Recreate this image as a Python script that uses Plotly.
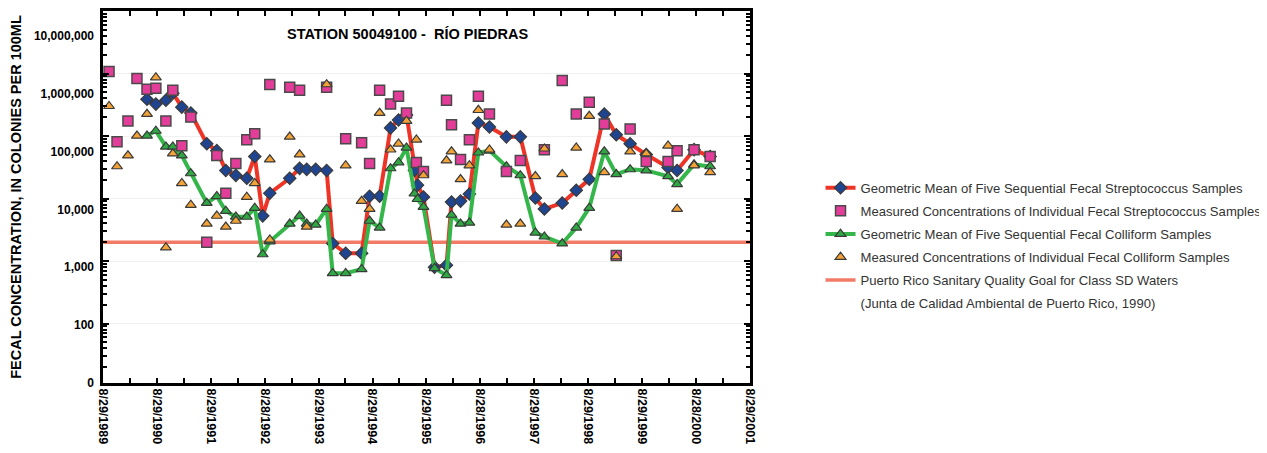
import plotly.graph_objects as go

# Station 50049100 - Rio Piedras, fecal bacteria (colonies per 100 mL)
mean_dates = [
    "1990-06-23", "1990-08-22", "1990-10-29", "1990-12-15", "1991-02-14", "1991-04-16", "1991-08-02",
    "1991-10-09", "1991-12-09", "1992-02-15", "1992-04-29", "1992-06-22", "1992-08-15", "1992-10-02",
    "1993-02-14", "1993-04-22", "1993-06-09", "1993-08-09", "1993-10-22", "1993-12-02", "1994-02-28",
    "1994-06-16", "1994-08-09", "1994-10-16", "1994-12-29", "1995-02-21", "1995-04-16", "1995-06-09",
    "1995-06-30", "1995-08-09", "1995-10-23", "1996-01-12", "1996-02-15", "1996-04-16", "1996-06-15",
    "1996-08-15", "1996-10-29", "1997-02-21", "1997-05-26", "1997-09-05", "1997-11-05", "1998-03-06",
    "1998-06-09", "1998-09-05", "1998-12-16", "1999-03-07", "1999-06-09", "1999-09-26", "2000-02-21",
    "2000-04-22", "2000-08-15", "2000-12-02",
]
strep_mean = [
    388000, 324000, 374000, 483000, 290000, 233000, 75400,
    58400, 28200, 23500, 21100, 47000, 5290, 12200,
    21100, 30400, 29300, 29300, 28200, 1910, 1330,
    1330, 10900, 10900, 135000, 181000, 217000, 28200,
    16400, 10600, 800, 860, 8800, 9100, 11800,
    162000, 140000, 97000, 97000, 10200, 6800, 8500,
    13600, 20300, 225000, 105000, 75400, 50500, 31500,
    28200, 60600, 47000,
]
coli_mean = [
    101000, 121000, 67600, 67600, 48700, 25300, 8490,
    10900, 6340, 5100, 5100, 7080, 1280, 2050,
    3950, 5290, 3950, 3810, 6820, 640, 640,
    741, 4400, 3420, 30400, 37800, 65200, 12000,
    9800, 7340, 768, 595, 5480, 3950, 4100,
    54300, 58400, 32700, 23500, 2850, 2460, 1910,
    3420, 7080, 56400, 24400, 29300, 28200, 22700,
    17000, 35100, 32700,
]

strep_dates = [
    "1989-10-09", "1989-12-02", "1990-02-14", "1990-04-16", "1990-06-23", "1990-08-22", "1990-10-29",
    "1990-12-15", "1991-02-14", "1991-04-16", "1991-08-02", "1991-10-09", "1991-12-09", "1992-02-15",
    "1992-04-29", "1992-06-22", "1992-10-02", "1993-02-14", "1993-04-22", "1993-10-22", "1994-02-28",
    "1994-06-16", "1994-08-09", "1994-10-16", "1994-12-29", "1995-02-21", "1995-04-16", "1995-06-22",
    "1995-08-09", "1996-01-12", "1996-02-15", "1996-04-16", "1996-06-15", "1996-08-15", "1996-10-29",
    "1997-02-21", "1997-05-26", "1997-11-05", "1998-03-06", "1998-06-09", "1998-09-05", "1998-12-16",
    "1999-03-07", "1999-06-09", "1999-09-26", "2000-02-21", "2000-04-22", "2000-08-15", "2000-12-02",
]
strep_samples = [
    1080000, 81200, 174000, 834000, 558000, 579000, 174000,
    538000, 70100, 201000, 2000, 48700, 12200, 36400,
    87300, 109000, 670000, 601000, 538000, 601000, 90500,
    78200, 36400, 538000, 324000, 433000, 233000, 37800,
    27200, 374000, 151000, 42100, 87300, 433000, 225000,
    27200, 40600, 60600, 775000, 225000, 348000, 156000,
    1230, 130000, 39200, 39200, 58400, 60600, 47000,
]

coli_dates = [
    "1989-10-09", "1989-12-02", "1990-02-14", "1990-04-16", "1990-06-23", "1990-08-22", "1990-10-29",
    "1990-12-15", "1991-02-14", "1991-04-16", "1991-08-02", "1991-10-09", "1991-12-09", "1992-02-15",
    "1992-04-29", "1992-06-22", "1992-10-02", "1992-10-02", "1993-02-14", "1993-04-22", "1993-06-09",
    "1993-10-22", "1994-02-28", "1994-06-16", "1994-08-09", "1994-10-16", "1994-12-29", "1995-02-21",
    "1995-04-16", "1995-06-22", "1995-08-09", "1996-01-12", "1996-02-15", "1996-04-16", "1996-06-15",
    "1996-08-15", "1996-10-29", "1997-02-21", "1997-05-26", "1997-09-05", "1997-11-05", "1998-03-06",
    "1998-06-09", "1998-09-05", "1998-12-16", "1999-03-07", "1999-06-09", "1999-09-26", "2000-02-21",
    "2000-04-22", "2000-08-15", "2000-12-02",
]
coli_samples = [
    301000, 32700, 48700, 101000, 225000, 865000, 1650,
    52400, 17600, 7890, 3950, 5290, 3540, 4400,
    10600, 17600, 42100, 2200, 97300, 50500, 3540,
    670000, 33900, 9130, 6820, 233000, 60600, 75400,
    174000, 87300, 23500, 40600, 56400, 20300, 33900,
    260000, 60600, 3810, 3950, 22700, 62900, 24400,
    65200, 209000, 26300, 1190, 56400, 52400, 70100,
    6820, 33900, 26300,
]

goal = 2000
x_start, x_end = "1989-08-29", "2001-08-29"

tick_dates = ["1989-08-29", "1990-08-29", "1991-08-29", "1992-08-28", "1993-08-29", "1994-08-29", "1995-08-29",
              "1996-08-28", "1997-08-29", "1998-08-29", "1999-08-29", "2000-08-28", "2001-08-29"]
tick_text = ["8/29/1989", "8/29/1990", "8/29/1991", "8/28/1992", "8/29/1993", "8/29/1994", "8/29/1995",
             "8/28/1996", "8/29/1997", "8/29/1998", "8/29/1999", "8/28/2000", "8/29/2001"]
y_label_vals = [10, 100, 1000, 10000, 100000, 1000000, 10000000]
y_label_text = ["0", "100", "1,000", "10,000", "100,000", "1,000,000", "10,000,000"]

outline = dict(color="#3a3a3a", width=1.2)

fig = go.Figure()
fig.add_trace(go.Scatter(x=[x_start, x_end], y=[goal, goal], mode="lines",
                         line=dict(color="#f27b68", width=3.5),
                         name="Puerto Rico Sanitary Quality Goal for Class SD Waters",
                         legendgroup="e", legendrank=5))
# empty entry: second legend line, and it also puts the label axis (y2) on the page
fig.add_trace(go.Scatter(x=[None], y=[None], yaxis="y2", mode="lines",
                         line=dict(width=0, color="rgba(0,0,0,0)"),
                         name="(Junta de Calidad Ambiental de Puerto Rico, 1990)",
                         legendgroup="f", legendrank=6, hoverinfo="skip"))
fig.add_trace(go.Scatter(x=mean_dates, y=strep_mean, mode="lines+markers",
                         line=dict(color="#ee3426", width=4),
                         marker=dict(symbol="diamond", size=9.5, color="#1f4590", line=outline),
                         name="Geometric Mean of Five Sequential Fecal Streptococcus Samples",
                         legendgroup="a", legendrank=1))
fig.add_trace(go.Scatter(x=mean_dates, y=coli_mean, mode="lines+markers",
                         line=dict(color="#35b64a", width=4),
                         marker=dict(symbol="triangle-up", size=9.5, color="#2fa844", line=outline),
                         name="Geometric Mean of Five Sequential Fecal Colliform Samples",
                         legendgroup="c", legendrank=3))
fig.add_trace(go.Scatter(x=strep_dates, y=strep_samples, mode="markers",
                         marker=dict(symbol="square", size=10, color="#e23d98", line=dict(color="#4a4a4a", width=1.5)),
                         name="Measured Concentrations of Individual Fecal Streptococcus Samples",
                         legendgroup="b", legendrank=2))
fig.add_trace(go.Scatter(x=coli_dates, y=coli_samples, mode="markers",
                         marker=dict(symbol="triangle-up", size=9.5, color="#f2a236", line=outline),
                         name="Measured Concentrations of Individual Fecal Colliform Samples",
                         legendgroup="d", legendrank=4))

fig.add_annotation(text="STATION 50049100 - &nbsp;RÍO PIEDRAS", xref="paper", yref="paper",
                   x=0.471, y=0.937, xanchor="center", yanchor="middle", showarrow=False,
                   font=dict(size=14.5, color="black", weight="bold"))

minor_y = [k * 10 ** n for n in range(1, 7) for k in range(2, 10)]

# page body adds an 8px margin, so the figure is drawn 8px smaller
fig.update_layout(
    width=1259, height=445,
    margin=dict(l=95, r=516, t=0, b=70),
    paper_bgcolor="white", plot_bgcolor="white",
    font=dict(family="Arial, Liberation Sans, sans-serif", color="black"),
    showlegend=True,
    legend=dict(x=1.109, xanchor="left", y=0.565, yanchor="top", font=dict(size=13.1, color="#333"),
                tracegroupgap=3, bgcolor="rgba(0,0,0,0)"),
    xaxis=dict(type="date", range=[x_start, x_end], tickmode="array", tickvals=tick_dates, ticktext=tick_text,
               tickangle=90, tickfont=dict(size=12.5, weight="bold"), ticks="inside", ticklen=5, tickwidth=2,
               tickcolor="black", showline=True, linecolor="black", linewidth=3, mirror="allticks",
               showgrid=False, zeroline=False,
               minor=dict(ticks="inside", ticklen=5, tickwidth=2, tickcolor="black", dtick="M6", tick0=x_start)),
    yaxis=dict(type="log", range=[1.05, 7.0], tickmode="array", tickvals=y_label_vals, showticklabels=False,
               ticks="inside", ticklen=6, tickwidth=2, tickcolor="black", showline=True, linecolor="black",
               linewidth=3, mirror="allticks", showgrid=True, gridcolor="#f0f0f0", zeroline=False,
               minor=dict(tickvals=minor_y, ticks="inside", ticklen=4, tickwidth=1.5, tickcolor="black")),
    yaxis2=dict(overlaying="y", anchor="x", side="left", type="log", range=[1, 7.43], tickmode="array",
                tickvals=y_label_vals, ticktext=y_label_text, tickfont=dict(size=12, weight="bold"),
                ticks="", ticklabelstandoff=8, showgrid=False, showline=False, zeroline=False,
                title=dict(text="FECAL CONCENTRATION, IN COLONIES PER 100ML",
                           font=dict(size=14.5, weight="bold"), standoff=9)),
)

fig.write_html("out.html")
